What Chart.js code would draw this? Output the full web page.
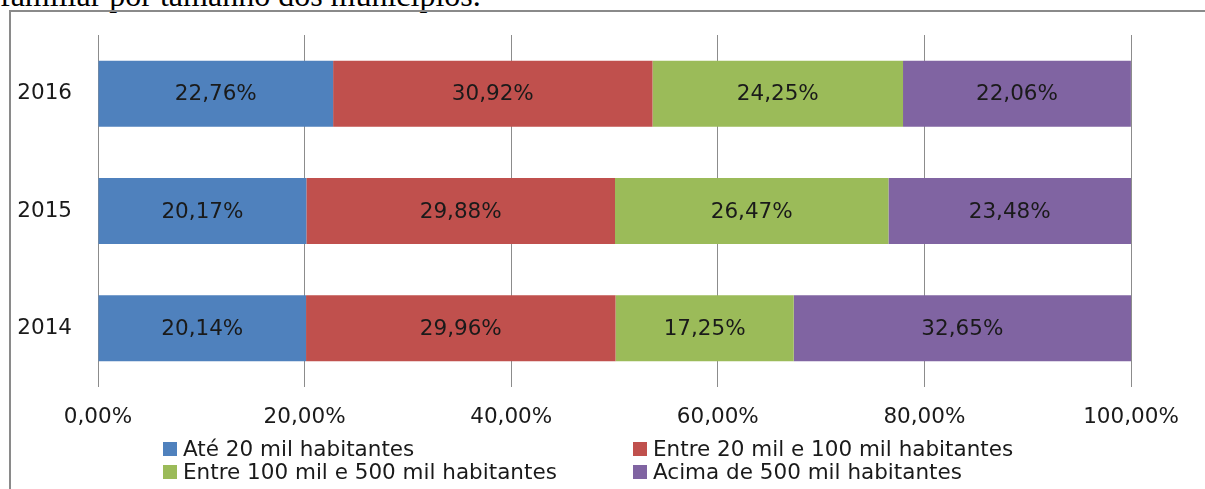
<!DOCTYPE html>
<html>
<head>
<meta charset="utf-8">
<script src="https://cdn.jsdelivr.net/npm/chart.js@4/dist/chart.umd.min.js"></script>
<style>
  html, body { margin: 0; padding: 0; background: #fff; }
  #page { position: relative; width: 1205px; height: 489px; overflow: hidden; }
  #caption {
    position: absolute; left: 0; top: -23px; white-space: nowrap;
    font-family: "Liberation Serif", serif; font-size: 32px; color: #000;
  }
  #frame {
    position: absolute; left: 9px; top: 10px; width: 1300px; height: 600px;
    border-left: 2px solid #8a8a8a; border-top: 2px solid #8a8a8a;
  }
  #wrap { position: absolute; left: 0; top: 0; width: 1205px; height: 489px; }
</style>
</head>
<body>
<div id="page">
  <div id="caption">familiar por tamanho dos municípios.</div>
  <div id="frame"></div>
  <div id="wrap"><canvas id="chart"></canvas></div>
</div>
<script>
const years = ['2016', '2015', '2014'];
const seriesNames = [
  'Até 20 mil habitantes',
  'Entre 20 mil e 100 mil habitantes',
  'Entre 100 mil e 500 mil habitantes',
  'Acima de 500 mil habitantes',
];
const ate20 = [22.76, 20.17, 20.14];
const entre20e100 = [30.92, 29.88, 29.96];
const entre100e500 = [24.25, 26.47, 17.25];
const acima500 = [22.06, 23.48, 32.65];
const xTicks = [0, 20, 40, 60, 80, 100];
const colors = ['#4f81bd', '#c0504d', '#9bbb59', '#8064a2'];

const FONT = '"DejaVu Sans"';
const TEXT = '#1a1a1a';
const pct = (v) => v.toFixed(2).replace('.', ',') + '%';

const barLabels = {
  id: 'barLabels',
  afterDatasetsDraw(chart) {
    const { ctx } = chart;
    ctx.save();
    ctx.font = '21.5px ' + FONT;
    ctx.fillStyle = TEXT;
    ctx.textAlign = 'center';
    ctx.textBaseline = 'middle';
    chart.data.datasets.forEach((ds, i) => {
      chart.getDatasetMeta(i).data.forEach((bar, j) => {
        const { x, y, base } = bar.getProps(['x', 'y', 'base'], true);
        ctx.fillText(pct(ds.data[j]), (x + base) / 2, y + 1);
      });
    });
    ctx.restore();
  },
};

// two-column legend like the original
const gridLegend = {
  id: 'gridLegend',
  afterDraw(chart) {
    const { ctx } = chart;
    const cols = [163, 633];
    const rows = [449, 472];
    ctx.save();
    ctx.font = '21.5px ' + FONT;
    ctx.textBaseline = 'middle';
    ctx.textAlign = 'left';
    chart.data.datasets.forEach((ds, i) => {
      const x = cols[i % 2];
      const y = rows[Math.floor(i / 2)];
      ctx.fillStyle = ds.backgroundColor;
      ctx.fillRect(x, y - 7, 14, 14);
      ctx.fillStyle = TEXT;
      ctx.fillText(ds.label, x + 20, y + 1);
    });
    ctx.restore();
  },
};

const seriesData = [ate20, entre20e100, entre100e500, acima500];

new Chart(document.getElementById('chart'), {
  type: 'bar',
  data: {
    labels: years,
    datasets: seriesData.map((d, i) => ({
      label: seriesNames[i],
      data: d,
      backgroundColor: colors[i],
      borderWidth: 0,
      barPercentage: 0.5625,
      categoryPercentage: 1,
    })),
  },
  options: {
    indexAxis: 'y',
    responsive: true,
    maintainAspectRatio: false,
    animation: false,
    layout: { padding: { left: 0, top: 35, right: 74, bottom: 62 } },
    plugins: {
      legend: { display: false },
      tooltip: { enabled: false },
    },
    scales: {
      x: {
        stacked: true,
        min: 0,
        max: 100,
        afterBuildTicks(scale) {
          scale.ticks = xTicks.map((v) => ({ value: v }));
        },
        afterFit(scale) { scale.height = 40; },
        ticks: {
          callback: (v) => pct(v),
          font: { family: FONT, size: 21.5 },
          color: TEXT,
          padding: 18,
          maxRotation: 0,
        },
        grid: { color: '#8c8c8c', drawTicks: false },
        border: { display: false },
      },
      y: {
        stacked: true,
        afterFit(scale) { scale.width = 98; },
        ticks: {
          font: { family: FONT, size: 21.5 },
          color: TEXT,
          padding: 18,
        },
        grid: { display: false },
        border: { display: false },
      },
    },
  },
  plugins: [barLabels, gridLegend],
});
</script>
</body>
</html>
